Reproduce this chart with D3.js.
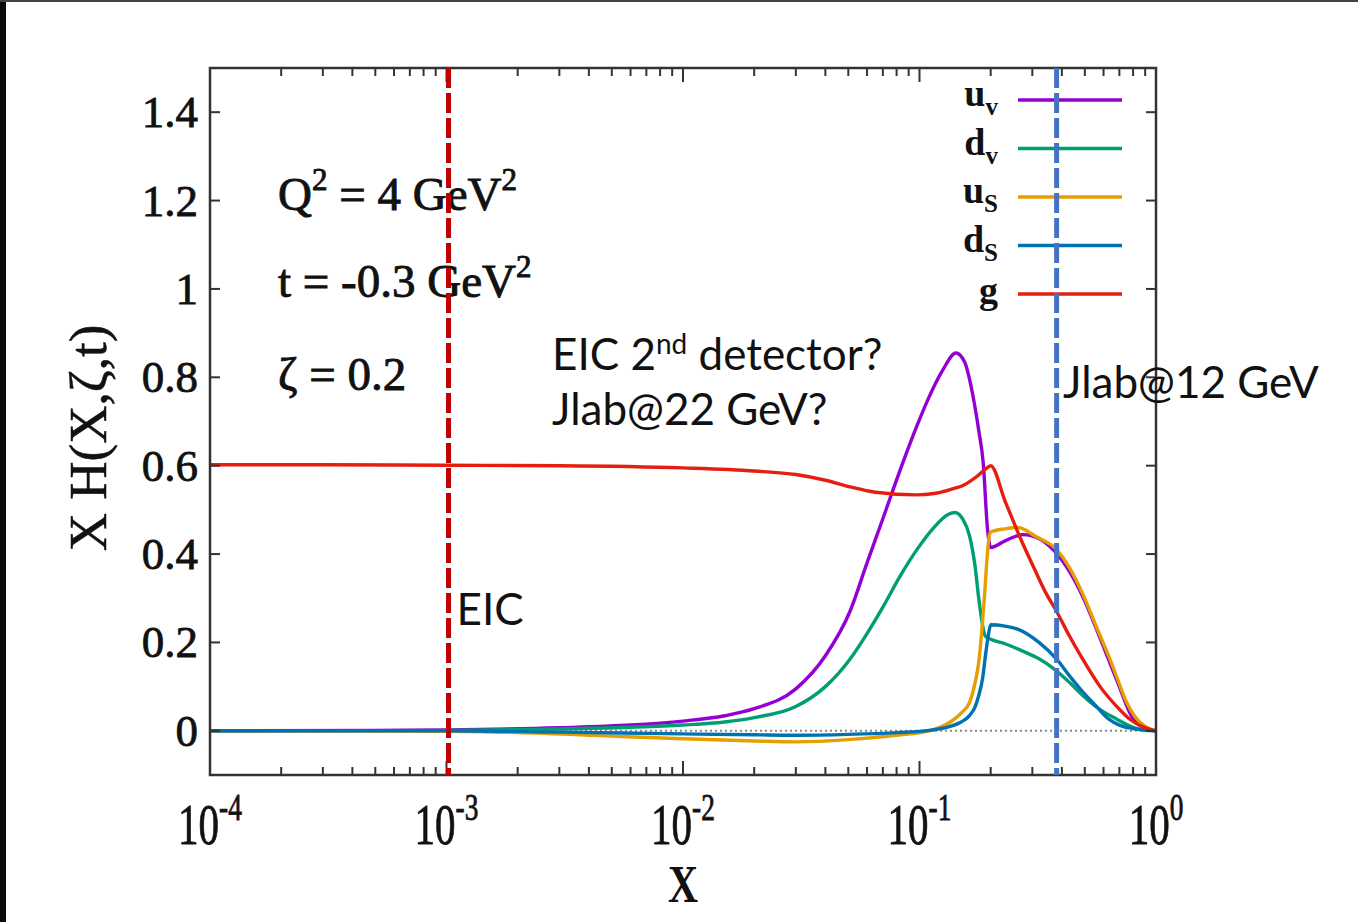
<!DOCTYPE html>
<html>
<head>
<meta charset="utf-8">
<script src="https://cdn.jsdelivr.net/npm/d3@7"></script>
<style>
  html, body { margin: 0; padding: 0; background: #fff; }
  svg { display: block; }
</style>
</head>
<body>
<svg id="chart" width="1358" height="922"></svg>
<script>
// GPD curves x·H(x, ζ, t) at Q² = 4 GeV², t = -0.3 GeV², ζ = 0.2
const xTicks = [1e-4, 1e-3, 1e-2, 1e-1, 1];
const xTickExponents = ["-4", "-3", "-2", "-1", "0"];
const yTicks = [0, 0.2, 0.4, 0.6, 0.8, 1, 1.2, 1.4];
const yTickLabels = ["0", "0.2", "0.4", "0.6", "0.8", "1", "1.2", "1.4"];

const seriesNames = ["uv", "dv", "uS", "dS", "g"];
const seriesColors = ["#9400d3", "#009e73", "#e69f00", "#0072b2", "#e51e10"];

// [x, xH] pairs
const uv = [[1e-4,0],[5e-4,0.001],[1e-3,0.002],[3e-3,0.007],[6e-3,0.013],[0.01,0.022],[0.015,0.034],[0.02,0.05],[0.03,0.095],[0.04,0.17],[0.0508,0.27],[0.06,0.38],[0.07,0.48],[0.0828,0.59],[0.0975,0.69],[0.1076,0.745],[0.125,0.815],[0.1426,0.855],[0.155,0.835],[0.168,0.76],[0.178,0.68],[0.186,0.606],[0.194,0.455],[0.2,0.415],[0.23,0.43],[0.274,0.444],[0.32,0.435],[0.356,0.417],[0.42,0.37],[0.49,0.304],[0.58,0.21],[0.68,0.117],[0.8,0.027],[0.9,0.006],[1,0]];
const dv = [[1e-4,0],[1e-3,0.001],[3e-3,0.004],[6e-3,0.008],[0.01,0.013],[0.015,0.02],[0.02,0.03],[0.03,0.055],[0.04,0.1],[0.0508,0.162],[0.06,0.22],[0.07,0.28],[0.0828,0.35],[0.0975,0.41],[0.115,0.46],[0.1326,0.49],[0.141,0.494],[0.152,0.48],[0.163,0.44],[0.172,0.37],[0.178,0.30],[0.19,0.214],[0.2,0.207],[0.23,0.197],[0.274,0.18],[0.32,0.163],[0.356,0.147],[0.42,0.115],[0.49,0.08],[0.58,0.048],[0.68,0.027],[0.8,0.008],[0.9,0.002],[1,0]];
const uS = [[1e-4,0],[1e-3,-0.001],[2e-3,-0.004],[5e-3,-0.012],[0.01,-0.018],[0.02,-0.023],[0.03,-0.025],[0.05,-0.02],[0.08,-0.01],[0.11,0],[0.135,0.02],[0.15,0.04],[0.163,0.065],[0.172,0.11],[0.178,0.155],[0.183,0.22],[0.188,0.30],[0.193,0.39],[0.197,0.44],[0.2,0.45],[0.23,0.457],[0.26,0.46],[0.31,0.44],[0.38,0.41],[0.43,0.37],[0.49,0.31],[0.56,0.235],[0.63,0.17],[0.69,0.115],[0.75,0.065],[0.82,0.03],[0.9,0.01],[1,0]];
const dS = [[1e-4,0],[1e-3,0],[3e-3,-0.003],[0.01,-0.007],[0.02,-0.009],[0.03,-0.01],[0.05,-0.008],[0.08,-0.004],[0.11,0.001],[0.135,0.01],[0.15,0.02],[0.163,0.035],[0.172,0.055],[0.178,0.08],[0.185,0.12],[0.19,0.17],[0.196,0.22],[0.2,0.24],[0.23,0.237],[0.26,0.23],[0.32,0.2],[0.38,0.162],[0.43,0.125],[0.49,0.088],[0.56,0.055],[0.63,0.027],[0.7,0.013],[0.8,0.005],[0.9,0.001],[1,0]];
const g = [[1e-4,0.602],[3e-4,0.602],[1e-3,0.601],[3e-3,0.6],[0.01,0.595],[0.02,0.588],[0.03,0.58],[0.04,0.567],[0.0508,0.552],[0.065,0.54],[0.0975,0.534],[0.115,0.537],[0.135,0.546],[0.155,0.557],[0.174,0.575],[0.19,0.592],[0.2,0.6],[0.23,0.52],[0.27,0.43],[0.307,0.365],[0.34,0.315],[0.38,0.27],[0.43,0.215],[0.49,0.162],[0.58,0.1],[0.68,0.056],[0.78,0.025],[0.88,0.009],[1,0]];
const seriesData = [uv, dv, uS, dS, g];

// marker lines for experimental reach
const eicX = 1.02e-3;
const jlab12X = 0.38;

const svg = d3.select("#chart");
const margin = { left: 210, right: 202, top: 68, bottom: 147 };
const W = 1358, H = 922;
const plotW = W - margin.left - margin.right;
const plotH = H - margin.top - margin.bottom;

// outer screen edge
svg.append("rect").attr("x", 0).attr("y", 0).attr("width", 6).attr("height", H).attr("fill", "#0a0a0a");
svg.append("rect").attr("x", 0).attr("y", 0).attr("width", W).attr("height", 2).attr("fill", "#444");

const x = d3.scaleLog().domain([1e-4, 1]).range([margin.left, margin.left + plotW]);
const y = d3.scaleLinear().domain([-0.1, 1.5]).range([margin.top + plotH, margin.top]);

const serif = "'Liberation Serif', 'DejaVu Serif', serif";
const sans = "Lato, 'Open Sans', sans-serif";
const ink = "#111";

// zero reference line (dotted)
svg.append("line")
  .attr("x1", x(1e-4)).attr("x2", x(1))
  .attr("y1", y(0)).attr("y2", y(0))
  .attr("stroke", "#888").attr("stroke-width", 2).attr("stroke-dasharray", "2,3");

// curves
const line = d3.line().x(d => x(d[0])).y(d => y(d[1])).curve(d3.curveMonotoneX);
seriesData.forEach((s, i) => {
  svg.append("path").datum(s)
    .attr("d", line)
    .attr("fill", "none")
    .attr("stroke", seriesColors[i])
    .attr("stroke-width", 3.4)
    .attr("stroke-linejoin", "round");
});

// frame
svg.append("rect")
  .attr("x", margin.left).attr("y", margin.top)
  .attr("width", plotW).attr("height", plotH)
  .attr("fill", "none").attr("stroke", "#333").attr("stroke-width", 2.5);

// x ticks (major + minor), drawn inward on bottom and top
const ticksG = svg.append("g").attr("stroke", "#333").attr("stroke-width", 2);
for (let e = -4; e < 0; e++) {
  for (let m = 1; m <= 9; m++) {
    const v = m * Math.pow(10, e);
    const len = m === 1 ? 14 : 8;
    ticksG.append("line").attr("x1", x(v)).attr("x2", x(v)).attr("y1", y(-0.1)).attr("y2", y(-0.1) - len);
    ticksG.append("line").attr("x1", x(v)).attr("x2", x(v)).attr("y1", y(1.5)).attr("y2", y(1.5) + len);
  }
}
yTicks.forEach(v => {
  ticksG.append("line").attr("x1", x(1e-4)).attr("x2", x(1e-4) + 10).attr("y1", y(v)).attr("y2", y(v));
  ticksG.append("line").attr("x1", x(1)).attr("x2", x(1) - 10).attr("y1", y(v)).attr("y2", y(v));
});

// serif text is drawn with a thin outline for the heavier print look
function heavy(sel, w) {
  return sel.attr("stroke", ink).attr("stroke-width", w).attr("paint-order", "stroke");
}

// y tick labels
yTicks.forEach((v, i) => {
  heavy(svg.append("text")
    .attr("x", x(1e-4) - 12).attr("y", y(v) + 15)
    .attr("text-anchor", "end")
    .attr("font-family", serif).attr("font-size", 45)
    .attr("fill", ink)
    .text(yTickLabels[i]), 0.8);
});

// x tick labels: 10^n
xTicks.forEach((v, i) => {
  const t = heavy(svg.append("text")
    .attr("transform", `translate(${x(v)},${y(-0.1) + 69}) scale(0.72,1)`)
    .attr("text-anchor", "middle")
    .attr("font-family", serif).attr("font-size", 57)
    .attr("fill", ink), 0.8);
  t.append("tspan").text("10");
  t.append("tspan").attr("font-size", 38).attr("dy", -24).text(xTickExponents[i]);
});

// axis titles
svg.append("text")
  .attr("transform", `translate(${x(0.01)},${H - 20}) scale(0.8,1)`)
  .attr("text-anchor", "middle")
  .attr("font-family", serif).attr("font-size", 52).attr("font-weight", "bold")
  .attr("fill", ink).text("X");

heavy(svg.append("text")
  .attr("transform", `translate(106,438) rotate(-90)`)
  .attr("text-anchor", "middle")
  .attr("font-family", serif).attr("font-size", 53)
  .attr("fill", ink).text("X H(X,ζ,t)"), 0.5);

// kinematics
const kin = heavy(svg.append("g").attr("font-family", serif).attr("fill", ink), 0.9);
const k1 = kin.append("text").attr("x", 278).attr("y", 210).attr("font-size", 47);
k1.append("tspan").text("Q");
k1.append("tspan").attr("font-size", 31).attr("dy", -20).text("2");
k1.append("tspan").attr("dy", 20).text(" = 4 GeV");
k1.append("tspan").attr("font-size", 31).attr("dy", -20).text("2");
const k2 = kin.append("text").attr("x", 278).attr("y", 297).attr("font-size", 47);
k2.append("tspan").text("t = -0.3 GeV");
k2.append("tspan").attr("font-size", 31).attr("dy", -20).text("2");
kin.append("text").attr("x", 278).attr("y", 390).attr("font-size", 47).text("ζ = 0.2");

// legend
const legG = svg.append("g");
const legRows = [["u", "v"], ["d", "v"], ["u", "S"], ["d", "S"], ["g", ""]];
legRows.forEach((r, i) => {
  const yy = 100 + i * 48.5;
  legG.append("line")
    .attr("x1", 1018).attr("x2", 1122).attr("y1", yy).attr("y2", yy)
    .attr("stroke", seriesColors[i]).attr("stroke-width", 3.4);
  const t = legG.append("text")
    .attr("x", 998).attr("y", r[1] ? yy + 6 : yy + 9)
    .attr("text-anchor", "end")
    .attr("font-family", serif).attr("font-weight", "bold").attr("font-size", 38)
    .attr("fill", ink);
  t.append("tspan").text(r[0]);
  if (r[1]) t.append("tspan").attr("font-size", 25).attr("dy", 9).text(r[1]);
});

// reach markers
svg.append("line")
  .attr("x1", x(eicX)).attr("x2", x(eicX)).attr("y1", y(1.5)).attr("y2", y(-0.1))
  .attr("stroke", "#c00000").attr("stroke-width", 5).attr("stroke-dasharray", "20,5");
svg.append("line")
  .attr("x1", x(jlab12X)).attr("x2", x(jlab12X)).attr("y1", y(1.5)).attr("y2", y(-0.1))
  .attr("stroke", "#4472c4").attr("stroke-width", 5).attr("stroke-dasharray", "20,5");

const ann = svg.append("g").attr("font-family", sans).attr("fill", ink).attr("font-size", 44);
ann.append("text").attr("x", x(eicX) + 8).attr("y", 625).text("EIC");
const a1 = ann.append("text").attr("x", 552).attr("y", 370);
a1.append("tspan").text("EIC 2");
a1.append("tspan").attr("font-size", 28).attr("dy", -16).text("nd");
a1.append("tspan").attr("dy", 16).text(" detector?");
ann.append("text").attr("x", 552).attr("y", 425).text("Jlab@22 GeV?");
ann.append("text").attr("x", 1063).attr("y", 398).text("Jlab@12 GeV");
</script>
</body>
</html>
